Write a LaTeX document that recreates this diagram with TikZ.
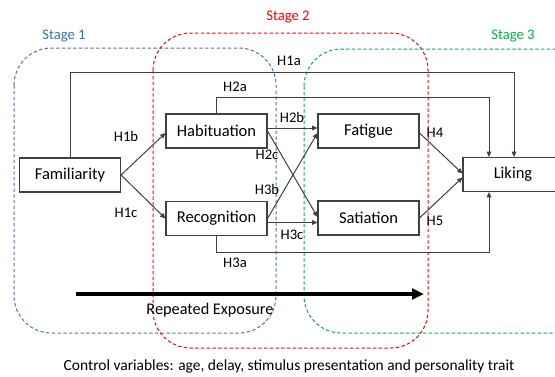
\documentclass[tikz,border=0pt]{standalone}
\usepackage{fontspec}
\setmainfont{Carlito}
\usetikzlibrary{arrows.meta,calc}
\definecolor{s1blue}{HTML}{4472C4}
\definecolor{s1lab}{HTML}{2E75B6}
\definecolor{s2red}{HTML}{FF0000}
\definecolor{s3green}{HTML}{00B050}
\definecolor{ln}{HTML}{404040}
\tikzset{
  varbox/.style={draw=ln, line width=0.8pt, minimum width=75.75pt, minimum height=25.5pt, inner sep=0pt, font=\fontsize{12.4}{14}\selectfont},
  lab/.style={font=\fontsize{11}{13}\selectfont, inner sep=0pt},
  arr/.style={draw=ln, line width=0.75pt, -{Triangle[length=4pt,width=3.5pt]}},
  stagebox/.style={dash pattern=on 2.5pt off 1.8pt, line width=0.75pt, rounded corners=28pt},
  stagelab/.style={font=\fontsize{11}{13}\selectfont, inner sep=0pt}
}
\begin{document}
\begin{tikzpicture}[x=0.75pt,y=-0.75pt]
\useasboundingbox (0,0) rectangle (555,376);
\clip (0,0) rectangle (555,376);
% stage regions
\draw[stagebox, s1blue] (14,48) rectangle (276,333);
\draw[stagebox, s2red] (153,33) rectangle (428,348);
\draw[stagebox, s3green] (304,49) rectangle (590,333);
\node[stagelab, text=s1lab] (st1) at (64,36) {Stage 1};
\node[stagelab, text=s2red] (st2) at (288,17) {Stage 2};
\node[stagelab, text=s3green] (st3) at (513,36) {Stage 3};
% variables
\node[varbox] (fam) at (70,175) {Familiarity};
\node[varbox] (hab) at (216.5,131) {Habituation};
\node[varbox] (rec) at (216.5,218.5) {Recognition};
\node[varbox] (fat) at (368.5,131) {Fatigue};
\node[varbox] (sat) at (368.5,218) {Satiation};
\node[varbox, minimum width=75pt] (lik) at (513,174.5) {Liking};
% corner points
\coordinate (c1a) at (514,72);
\coordinate (c2a) at (489,97);
\coordinate (c3a) at (489,252);
% paths
\draw[arr] (fam.north) |- (c1a) -- (c1a |- lik.north);
\draw[arr] (hab.north) |- (c2a) -- (c2a |- lik.north);
\draw[arr] (rec.south) |- (c3a) -- (c3a |- lik.south);
\draw[arr] (fam.east) -- ($(hab.west)+(0,2)$);
\draw[arr] (fam.east) -- (rec.west);
\draw[arr] ($(hab.east)+(0,-3)$) -- ($(fat.west)+(0,-3)$);
\draw[arr] (hab.east) -- ($(sat.west)+(0,-1)$);
\draw[arr] (rec.east) -- ($(fat.west)+(0,2)$);
\draw[arr] ($(rec.east)+(0,4)$) -- ($(sat.west)+(0,4.5)$);
\draw[arr] ($(fat.east)+(0,2)$) -- ($(lik.west)+(0,-1)$);
\draw[arr] (sat.east) -- ($(lik.west)+(0,3)$);
% labels
\node[lab] (l1a) at (289,61) {H1a};
\node[lab] (l2a) at (235,87) {H2a};
\node[lab] (l1b) at (126,136) {H1b};
\node[lab] (l1c) at (126,213) {H1c};
\node[lab] (l2b) at (292,117) {H2b};
\node[lab] (l2c) at (267,155) {H2c};
\node[lab] (l3b) at (267,189) {H3b};
\node[lab] (l3c) at (292,235) {H3c};
\node[lab] (l3a) at (235,263) {H3a};
\node[lab] (l4) at (435,133) {H4};
\node[lab] (l5) at (435,221) {H5};
% repeated exposure
\coordinate (rs) at (76,294);
\coordinate (re) at (424,294);
\draw[line width=2.6pt, -{Triangle[length=9pt,width=8pt]}] (rs) -- (re);
\node[font=\fontsize{12.2}{14}\selectfont, inner sep=0pt] (rep) at (210,310) {Repeated Exposure};
\node[font=\fontsize{11.6}{13}\selectfont, inner sep=0pt] (ctrl) at (289,366) {Control variables: age, delay, stimulus presentation and personality trait};
\end{tikzpicture}
\end{document}
